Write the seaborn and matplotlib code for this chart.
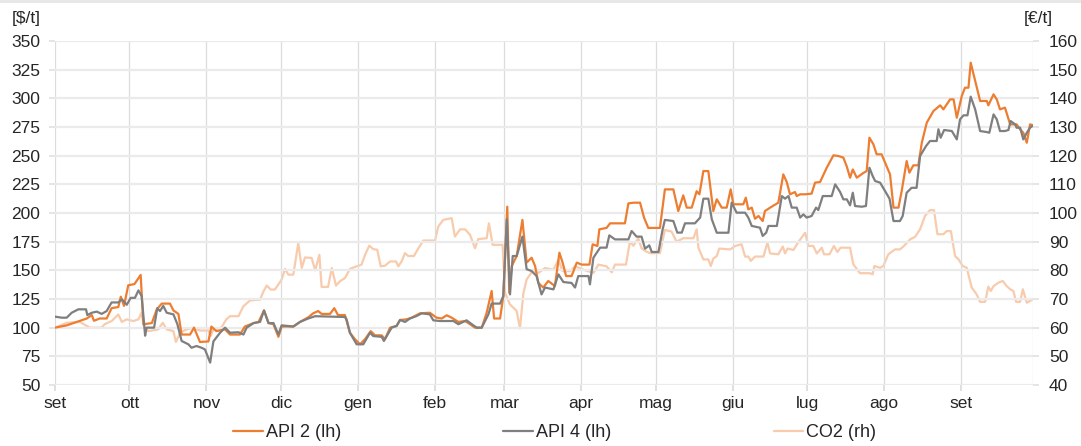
import matplotlib

matplotlib.use("Agg")
import matplotlib.pyplot as plt
import pandas as pd
import seaborn as sns
from matplotlib.lines import Line2D

# giorni dal 1 settembre 2021 e valori
api2_day = [0, 4.7, 8.7, 12.8, 14.8, 15.7, 18, 20.8, 22.8, 25.5, 26.5, 27.8, 29.5, 32, 34.5,
            35.6, 39, 41, 43, 46.3, 47.7, 49.7, 51, 54.4, 56, 58.4, 61.8, 63, 65, 68.5, 70.5,
            74.5, 76.5, 80, 82, 84.2, 86, 88, 90, 91.3, 96, 98.7, 102, 104, 106, 107.4, 110.8,
            112.5, 114, 116.8, 118.8, 120.8, 122.9, 124.9, 127.2, 128.9, 131.6, 132.9, 135,
            137.6, 139, 141.7, 143.7, 147, 151, 153.7, 155.8, 157.8, 159.8, 162.5, 165.2, 167.2,
            169.2, 171.9, 173.9, 175.9, 176.9, 179.3, 180.6, 182.2, 183, 184, 186, 188.3, 190,
            192, 193.4, 194.7, 196.7, 198.7, 201.4, 203.2, 204.5, 205.9, 208.1, 210.2, 212.2,
            215.3, 216.6, 218.5, 219.3, 222.2, 223.6, 229.6, 231, 233, 235.7, 237.3, 239, 243.7,
            245.7, 249.1, 251.1, 253.1, 254.5, 256.5, 258.5, 259.6, 261.2, 263.2, 265.2, 266.6,
            268.6, 270.6, 272.2, 273.3, 277.3, 278.3, 279.3, 280.7, 282, 283.4, 285.1, 286,
            288.1, 291.4, 293.4, 294.8, 296.1, 298.1, 298.8, 300.2, 302.2, 304.8, 306.2, 308.2,
            310.9, 313.6, 315.6, 317.6, 319, 320.3, 321.4, 323, 325.7, 327, 328.1, 329.7, 331,
            333, 334.4, 336.4, 337.8, 339.8, 341.1, 343.1, 344.2, 345.8, 347.8, 349.2, 351.2,
            353.9, 356.6, 357.9, 360.6, 362, 363.3, 365.3, 366.6, 368, 368.9, 370.7, 372.7,
            375.4, 376, 378.1, 379.4, 380.7, 382.7, 384.8, 387.4, 388.8, 390.1, 391.5, 392.8,
            394.2]
api2_val = [100, 102, 105, 108, 111, 106, 108, 108, 117, 118, 127, 119, 137, 138, 146,
            103, 104, 116, 121, 121, 115, 112, 94, 94, 100, 87.5, 88, 101, 97, 98.5, 94,
            94, 101, 104, 105, 115, 104, 103, 92, 101, 101, 105, 109, 112.5, 114.5, 112, 112,
            117, 111, 111, 95.6, 90, 85.5, 90, 97, 93.3, 93.3, 90, 100,
            101.5, 106.7, 107.3, 108.7, 112.5, 113, 108.7, 108, 110.8, 108.7, 105, 105.8, 103,
            100, 100, 113, 132, 108, 108, 127.6, 205.5, 130.5, 153.8, 162.5, 194, 156.7,
            161, 153.8, 139, 135, 140.7, 136.3, 165.4, 156.7, 145, 145, 156.7, 155,
            155, 172.7, 171.2, 185.8, 187, 191, 191, 208.4, 209, 209, 196, 187, 187,
            220.6, 220.6, 201.7, 215.4, 204.7, 204.7, 219, 216.3, 236.6, 236.6, 201.7, 212,
            204.7, 204.7, 220.6, 207.6, 207.6, 213.4, 203.2, 204.7, 195, 197.4, 193, 201.7,
            204.7, 209, 233.7, 227, 216.3, 218.3, 214.8, 216.3, 216.3, 216.9, 226.5, 227,
            239.5, 250.3, 249.7, 248.3, 240.4, 230.8, 238, 230.8, 235, 236.6, 265.7, 259.9, 251.2,
            251.2, 243.9, 233.7, 204.7, 204.7, 219.2, 245.3, 235.2, 241.6, 241.6, 261.3, 278.8,
            289, 293.9, 290.4, 299.1, 299.1, 283.1, 302, 309.3, 309.3, 331.1, 315.1, 297.7,
            297.7, 293.9, 303.5, 299.1, 290.4, 291.9, 277.3, 277.3, 273, 270, 261.3, 277.3,
            276.5]

api4_day = [0, 2.7, 4.7, 6.7, 9.4, 12.5, 13, 14.8, 16.8, 18.8, 20.8, 22.8, 25.5, 26.9, 28.9,
            30.5, 32.2, 33.6, 34.9, 36.3, 36.9, 39.9, 41.2, 42.3, 43.6, 45, 47.7, 49.3, 51,
            53.7, 55, 57, 59, 60.4, 62.5, 63.8, 66.5, 68.5, 70.5, 73.9, 75.9, 77.2, 80, 82.6,
            84.2, 86, 88, 90, 91.3, 96, 98.7, 102, 104.8, 112, 116.8, 117.5, 118.8, 121.5,
            124.2, 126.9, 128.2, 131.6, 132.5, 135.6, 137.6, 139, 141, 143, 145.7, 147.7, 151,
            152.4, 155, 160.5, 162.5, 165.8, 167.9, 169.9, 171.9, 174.6, 175.9, 179.3, 180.6,
            182, 183.3, 184.4, 186, 188.3, 190, 192, 194, 196, 197.4, 200.8, 202.8, 204.8,
            208.1, 209.5, 210.8, 214.9, 215.5, 216.9, 219.6, 222.2, 223.3, 225.6, 231, 232.3,
            234.3, 236.3, 237.7, 239.4, 240.4, 243.1, 244.8, 245.7, 249.1, 250.7, 252.5, 253.8,
            257.8, 259.9, 261.2, 263.2, 264.6, 266.6, 271.3, 272.6, 274.6, 278, 279.3, 280.7,
            284, 285.1, 286.5, 287.4, 290.8, 292.8, 294.1, 295.5, 296.8, 298.8, 300.2, 301.5,
            302.8, 304.8, 306.6, 307.5, 309.3, 312.9, 314.3, 316.3, 317.6, 319, 320.3, 321.4,
            322.3, 325, 326.7, 328.1, 329.4, 330.4, 332.4, 334.4, 336.2, 337.8, 340.4, 341.5,
            343.1, 345.1, 347.1, 348.5, 350.9, 352.5, 355.2, 355.9, 356.8, 358.2, 361.3, 363.3,
            364.6, 366, 367.6, 368.9, 370.7, 372.7, 375.4, 376.4, 378.1, 379.4, 380.7, 382.7,
            384.1, 385, 386.8, 387.4, 388.8, 390.1, 391.5, 392.8, 394.2]
api4_val = [109.6, 108.7, 108.7, 113, 116, 116, 111, 113, 114, 112, 114.5, 122, 122, 124.7, 120,
            126, 126, 132.5, 127.6, 93, 100, 100, 117, 114.5, 119, 113, 111.6, 103, 88.4,
            85.5, 82.5, 84, 82.5, 81, 69.5, 88, 95.6, 100, 95.6, 96, 94, 100, 104, 105,
            115, 104, 104, 94, 102, 101, 105, 108, 110, 109.6, 109.3, 107, 95.6, 85.5,
            85.5, 95.6, 92.7, 92, 88.4, 100, 101.5, 106.7, 105, 108, 110.2, 112.5, 111.6,
            106.4, 105.8, 105.8, 103, 106.4, 103, 100, 100, 111.6, 121, 121, 127.6,
            194.5, 129, 162.5, 162.5, 179.4, 151, 149.4, 145, 129, 135, 133.4, 146.5, 139.8,
            139, 135, 145, 145, 137.8, 161, 169.8, 169.8, 180.5, 177, 177, 184.3,
            179.4, 179.4, 168.9, 171.8, 166, 166, 185.8, 194, 193, 182.9, 182.9, 191,
            191, 196, 212.5, 212.5, 194.5, 182.8, 182.8, 209, 200.3, 200.3, 196, 188.7,
            187.2, 180, 182.8, 188.7, 188.7, 214.8, 212.5, 214.8, 204.7, 204.7, 196, 198.8,
            196, 197.4, 204.7, 202.6, 214.8, 214.8, 225, 218.3, 211.9, 211.9, 206.7, 217.7,
            206.1, 205.5, 206.1, 239.5, 232.3, 227.9, 226.5, 219.2, 212.5, 193, 193, 197.4,
            217.7, 222, 222, 249.7, 258.4, 262.8, 262.8, 273, 265.7, 272.4, 271.5, 264.2,
            281.7, 285.2, 285.2, 301.5, 290.4, 271.5, 270.6, 270, 286, 281.7, 271.5, 271.5,
            272.4, 280.2, 277.3, 274.4, 274.4, 264.2, 270, 274.4, 276.5]

co2_day = [0, 4.7, 10, 14, 18.8, 20, 22.8, 25.5, 26.9, 28.9, 31.5, 33.6, 34.9, 35.9, 37.6,
           41.6, 43.4, 45, 47.7, 48.7, 50.4, 53, 55.7, 58.4, 61.8, 62.7, 63.8, 67, 69, 70.5,
           73.9, 75.9, 78.6, 82.6, 84, 85.3, 86.9, 88.6, 91.3, 92.7, 94, 96, 98, 99.4, 100.7,
           103.4, 104.8, 106.5, 107.4, 110, 111.5, 113.2, 114.8, 116.8, 118.8, 121.5, 123.5,
           124.9, 126.6, 128.2, 129.8, 131.2, 132.9, 135, 137.4, 138.3, 139.6, 141, 142.3,
           144.6, 146.4, 148.4, 153.1, 154.4, 156.4, 159.8, 161.1, 163.2, 165.2, 167.2, 169.2,
           170.5, 173.9, 174.8, 176.3, 180.3, 181.3, 183.3, 186, 187.3, 188.7, 190, 192.7,
           194.7, 197.4, 200.8, 202.8, 204.5, 207.5, 209.5, 212.9, 216.9, 218.9, 222.2, 224.3,
           225.6, 230, 231.6, 233, 235, 236.3, 238.1, 239.7, 243.7, 245.7, 248.4, 250.4, 253.1,
           257.2, 258.5, 259.2, 261.2, 263.2, 264.2, 265.2, 266.6, 267.6, 272, 274, 276.6, 278,
           279.3, 280.3, 282, 285.4, 287, 288.1, 291.4, 293.2, 294.1, 295.1, 297.5, 299.5,
           302.2, 303.5, 305.5, 306.9, 308.9, 309.8, 312, 313.8, 315.2, 316.5, 320.3, 321.6,
           324.3, 328.3, 329.4, 330.1, 332.4, 333.7, 335.7, 338.4, 340.4, 342, 344.5, 346.5,
           348.5, 350.5, 352.5, 354.1, 355.5, 357.9, 359.2, 360.9, 362.6, 364, 365.7, 367.3,
           369.3, 371.3, 372.7, 374.7, 376, 377, 378.1, 380.1, 381.8, 383.4, 384.8, 386.1,
           387.2, 388.8, 389.9, 391.5, 394.2]
co2_val = [60, 61.7, 62, 60, 60, 61.2, 62.3, 64.6, 62, 62.9, 62.3, 62.9, 65.2, 60, 58.8,
           59.4, 61.7, 59.4, 58.8, 55, 58.3, 59.4, 60, 59, 59, 57.1, 59.4, 60, 62.9, 64,
           64, 67.5, 69.5, 69.8, 72.7, 74.7, 73.3, 73.3, 76.8, 80.5, 78.5, 78.5, 89.5, 80.8, 84.5,
           84.3, 80, 85.4, 74.2, 74.2, 80.8, 74.7, 76.2, 77.3, 80.5, 81.4, 82,
           85.4, 88.6, 87.4, 87.2, 81.4, 81.6, 83.1, 83.1, 81.4, 83.1, 86, 85,
           85, 87.7, 90.4, 90.4, 95.3, 97.6, 98.2, 91.8, 94.3, 94.3, 92.4, 87.7,
           90.9, 91.2, 96.4, 88.9, 88.9, 72.1, 68.1, 65.8, 59.7, 72.1, 76.8, 80.2,
           79.1, 80.8, 80.2, 83.7, 79.7, 79.7, 81.4, 80.2, 79.1, 82, 81.4, 79.3,
           82, 82, 90, 88.6, 91.2, 87.7, 86.6, 86, 86, 94.1, 93.5, 90, 91.2,
           91.2, 94.3, 87.9, 83.8, 83.8, 81.5, 84.1, 85, 87.6, 87.3, 88.5, 89.1, 84.8,
           84.8, 83.3, 84.8, 84.8, 89.7, 85.9, 85.6, 88.3, 85.9, 87.6, 87.1, 89.9,
           93.1, 88.5, 88.5, 85.9, 87.9, 85.6, 85.6, 88.5, 86.4, 87.9, 87.9, 82.1,
           79, 79, 78.6, 81.5, 80.9, 81.5, 85.6, 87.3, 87.3, 88.5, 90.8, 91.7,
           94.3, 99, 101, 101, 92.6, 92.6, 93.7, 93.7, 85, 83.8, 81.5, 80.9,
           74, 71.6, 69, 69, 74.3, 72.8, 74.5, 75.7, 76.3, 74.5, 73.4, 72.8,
           69, 69, 73.4, 68.7, 70]

month_labels = ["set", "ott", "nov", "dic", "gen", "feb", "mar", "apr", "mag", "giu",
                "lug", "ago", "set"]
left_ticks = list(range(50, 351, 25))
right_ticks = list(range(40, 161, 10))

start = pd.Timestamp("2021-09-01")


def to_frame(days, values):
    return pd.DataFrame({"data": start + pd.to_timedelta(days, unit="D"), "valore": values})


sns.set_theme(style="whitegrid")
plt.rcParams["font.family"] = ["Liberation Sans", "DejaVu Sans"]

fig, ax = plt.subplots(figsize=(10.81, 4.46), dpi=100)
fig.subplots_adjust(left=0.0509, right=0.9556, top=0.908, bottom=0.1368)
ax2 = ax.twinx()

c_api2, c_api4, c_co2 = "#ED7D31", "#7F7F7F", "#F8CBAD"
sns.lineplot(data=to_frame(co2_day, co2_val), x="data", y="valore", ax=ax2,
             color=c_co2, linewidth=1.6, legend=False)
sns.lineplot(data=to_frame(api4_day, api4_val), x="data", y="valore", ax=ax,
             color=c_api4, linewidth=1.6, legend=False, zorder=3)
sns.lineplot(data=to_frame(api2_day, api2_val), x="data", y="valore", ax=ax,
             color=c_api2, linewidth=1.6, legend=False, zorder=2)

# CO2 sull'asse destro, ma disegnata dietro le linee del carbone
ax.set_zorder(ax2.get_zorder() + 1)
ax.patch.set_visible(False)

month_ticks = pd.date_range("2021-09-01", "2022-09-01", freq="MS")
ax.set_xlim(start, pd.Timestamp("2022-09-30"))
ax.set_xticks(month_ticks)
ax.set_xticklabels(month_labels)
ax.set_ylim(50, 350)
ax.set_yticks(left_ticks)
ax2.set_ylim(40, 160)
ax2.set_yticks(right_ticks)

for a in (ax, ax2):
    a.set_xlabel(None)
    a.set_ylabel(None)
    for s in a.spines.values():
        s.set_visible(False)

ax.grid(axis="y", color="#EBEBEB", linewidth=1.6)
ax.grid(axis="x", color="#DCDCDC", linewidth=0.9)
ax2.grid(False)
ax.axvline(pd.Timestamp("2022-09-30"), color="#DCDCDC", linewidth=0.9)

ax.tick_params(axis="y", length=4.5, color="#E0E0E0", width=1.2, pad=6, labelsize=12.5,
               labelcolor="#262626", left=True)
ax.tick_params(axis="x", length=4, color="#DCDCDC", pad=4, labelsize=12.5,
               labelcolor="#262626", bottom=True)
ax2.tick_params(axis="y", length=4.5, color="#E0E0E0", width=1.2, pad=7, labelsize=12.5,
                labelcolor="#262626", right=True)

fig.text(0.011, 0.958, "[$/t]", fontsize=12.5, color="#262626", va="center")
fig.text(0.947, 0.958, "[€/t]", fontsize=12.5, color="#262626", va="center")

handles = [Line2D([], [], color=c, linewidth=1.6) for c in (c_api2, c_api4, c_co2)]
fig.legend(handles, ["API 2 (lh)", "API 4 (lh)", "CO2 (rh)"], loc="center",
           bbox_to_anchor=(0.513, 0.03), ncol=3, frameon=False, fontsize=13,
           handlelength=1.65, handletextpad=0.15, columnspacing=9)

fig.add_artist(Line2D([0, 1], [0.997, 0.997], color="#E6E6E6", linewidth=2,
                      transform=fig.transFigure))

fig.savefig("out.png", dpi=100)
